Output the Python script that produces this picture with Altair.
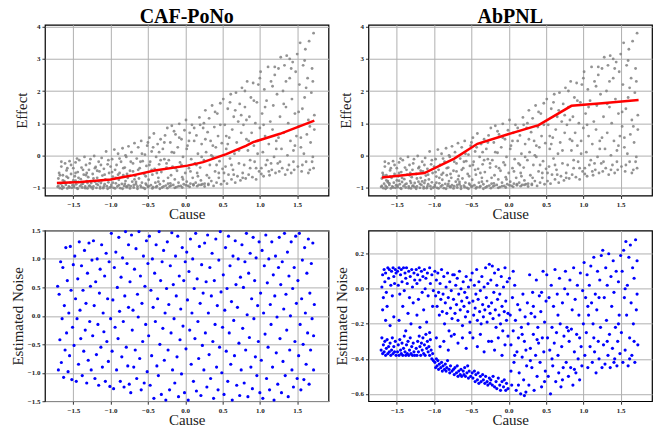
import altair as alt
import pandas as pd

# ---------------- data ----------------
x_ticks = [-1.5, -1.0, -0.5, 0.0, 0.5, 1.0, 1.5]
effect_ticks = [-1, 0, 1, 2, 3, 4]
caf_noise_ticks = [-1.5, -1.0, -0.5, 0.0, 0.5, 1.0, 1.5]
abpnl_noise_ticks = [-0.6, -0.4, -0.2, 0.0, 0.2]
titles = ["CAF-PoNo", "AbPNL"]

# observed (cause, effect) pairs, shared by both top panels
cause_effect = [
    (-1.71,-0.98),(-1.70,-0.72),(-1.69,-0.55),(-1.68,-1.02),(-1.67,-0.88),(-1.66,-0.35),(-1.65,-0.95),(-1.64,-0.62),
    (-1.63,-1.00),(-1.62,-0.80),(-1.61,-0.25),(-1.60,-0.92),(-1.59,-0.47),(-1.58,-1.03),(-1.57,-0.70),(-1.56,-0.97),
    (-1.55,-0.18),(-1.54,-0.85),(-1.53,-0.58),(-1.52,-1.01),(-1.51,-0.93),(-1.50,-0.40),(-1.50,-0.78),
    (-1.49,-0.99),(-1.48,-0.65),(-1.47,-0.22),(-1.46,-0.90),(-1.45,-1.02),(-1.44,-0.52),(-1.43,-0.83),(-1.42,-0.15),
    (-1.41,-0.96),(-1.40,-0.74),(-1.39,-0.38),(-1.38,-1.00),(-1.37,-0.88),(-1.36,-0.60),(-1.35,-0.05),(-1.34,-0.97),
    (-1.33,-0.30),(-1.32,-0.80),(-1.31,-1.03),(-1.30,-0.68),(-1.29,-0.45),(-1.28,-0.94),(-1.27,-0.12),(-1.26,-0.86),
    (-1.26,-0.99),
    (-1.24,-0.58),(-1.23,-0.97),(-1.22,-0.02),(-1.21,-0.82),(-1.20,-0.36),(-1.19,-1.01),(-1.18,-0.70),(-1.17,-0.92),
    (-1.16,-0.20),(-1.15,-0.50),(-1.14,-0.98),(-1.13,-0.86),(-1.12,-0.08),(-1.11,-0.63),(-1.10,-1.02),(-1.09,-0.42),
    (-1.08,-0.90),(-1.07,-0.75),(-1.06,0.12),(-1.05,-0.96),(-1.04,-0.28),(-1.03,-0.84),(-1.02,-0.55),(-1.01,-1.00),
    (-0.99,-0.92),(-0.98,-0.12),(-0.97,-0.66),(-0.96,-1.01),(-0.95,0.18),(-0.94,-0.45),(-0.93,-0.87),(-0.92,-0.30),
    (-0.91,-0.97),(-0.90,0.05),(-0.89,-0.76),(-0.88,-0.55),(-0.87,-1.02),(-0.86,-0.20),(-0.85,-0.89),(-0.84,0.22),
    (-0.83,-0.62),(-0.82,-0.95),(-0.81,-0.38),(-0.80,-0.80),(-0.79,-0.05),(-0.78,-0.99),(-0.77,-0.70),(-0.76,0.28),
    (-0.76,-0.93),
    (-0.74,-0.48),(-0.73,-0.96),(-0.72,0.10),(-0.71,-0.82),(-0.70,-0.25),(-0.69,-1.00),(-0.68,0.38),(-0.67,-0.64),
    (-0.66,-0.90),(-0.65,-0.10),(-0.64,-0.97),(-0.63,0.25),(-0.62,-0.72),(-0.61,-0.40),(-0.60,-0.94),(-0.59,0.45),
    (-0.58,-0.85),(-0.57,-0.18),(-0.56,-1.01),(-0.55,-0.58),(-0.54,0.02),(-0.53,-0.88),(-0.52,-0.33),(-0.51,0.30),
    (-0.50,-0.98),
    (-0.49,-0.76),(-0.48,0.55),(-0.47,-0.20),(-0.46,-0.93),(-0.45,0.12),(-0.44,-0.60),(-0.43,-0.99),(-0.42,0.68),
    (-0.41,-0.42),(-0.40,-0.85),(-0.39,-0.05),(-0.38,-0.96),(-0.37,0.35),(-0.36,-0.70),(-0.35,-0.28),(-0.34,-0.90),
    (-0.33,0.50),(-0.32,-0.52),(-0.31,-1.00),(-0.30,0.20),(-0.29,-0.80),(-0.28,-0.12),(-0.27,0.62),(-0.26,-0.94),
    (-0.25,-0.38),
    (-0.24,0.85),(-0.23,-0.88),(-0.22,-0.15),(-0.21,-0.97),(-0.20,0.40),(-0.19,-0.62),(-0.18,0.92),(-0.17,-0.35),
    (-0.16,-0.92),(-0.15,0.08),(-0.14,-0.75),(-0.13,0.65),(-0.12,-0.99),(-0.11,-0.48),(-0.10,0.25),(-0.09,-0.85),
    (-0.08,0.98),(-0.07,-0.22),(-0.06,-0.95),(-0.05,0.50),(-0.04,-0.68),(-0.03,-0.05),(-0.02,-0.90),(-0.01,0.78),
    (0.00,-0.55),
    (0.01,1.10),(0.02,-0.82),(0.03,0.30),(0.04,-0.95),(0.05,-0.40),(0.06,0.70),(0.07,-0.88),(0.08,-0.12),
    (0.09,0.95),(0.10,-0.70),(0.11,-0.93),(0.12,0.45),(0.13,-0.25),(0.14,-0.85),(0.15,0.62),(0.16,-0.55),
    (0.17,0.05),(0.18,-0.92),(0.19,1.18),(0.20,-0.38),(0.21,-0.78),(0.22,0.35),(0.23,-0.90),(0.24,0.85),(0.25,-0.15),
    (0.26,-0.88),(0.27,1.40),(0.28,0.10),(0.29,-0.62),(0.30,0.72),(0.31,-0.92),(0.32,1.15),(0.33,-0.30),
    (0.34,0.45),(0.35,-0.80),(0.36,1.55),(0.37,-0.05),(0.38,-0.95),(0.39,0.88),(0.40,-0.50),(0.41,0.25),
    (0.42,-0.85),(0.43,1.30),(0.44,0.60),(0.45,-0.70),(0.46,-0.18),(0.47,1.62),(0.48,-0.90),(0.49,0.38),(0.50,-0.42),
    (0.51,1.75),(0.52,-0.80),(0.53,0.95),(0.54,-0.35),(0.55,0.20),(0.56,-0.88),(0.57,1.45),(0.58,-0.60),
    (0.59,0.55),(0.60,-0.10),(0.61,1.90),(0.62,-0.75),(0.63,0.80),(0.64,-0.45),(0.65,1.20),(0.66,0.05),
    (0.67,-0.85),(0.68,1.95),(0.69,0.40),(0.70,-0.65),(0.71,1.05),(0.72,-0.25),(0.73,1.60),(0.74,-0.78),(0.75,0.70),
    (0.76,2.10),(0.77,-0.55),(0.78,0.95),(0.79,-0.30),(0.80,1.50),(0.81,-0.72),(0.82,0.50),(0.83,2.30),
    (0.84,0.15),(0.85,-0.60),(0.86,1.20),(0.87,-0.40),(0.88,1.80),(0.89,0.70),(0.90,-0.68),(0.91,2.25),
    (0.92,0.30),(0.93,-0.20),(0.94,1.00),(0.95,-0.75),(0.96,1.65),(0.97,0.05),(0.98,2.20),(0.99,-0.50),(1.00,0.85),
    (1.01,2.60),(1.02,-0.58),(1.03,1.30),(1.04,0.10),(1.05,-0.65),(1.06,2.05),(1.07,0.60),(1.08,-0.30),
    (1.09,1.70),(1.10,-0.15),(1.11,2.75),(1.12,0.35),(1.13,-0.62),(1.14,1.05),(1.15,2.30),(1.16,-0.45),
    (1.17,0.80),(1.18,1.55),(1.19,-0.05),(1.20,2.50),(1.21,-0.55),(1.22,0.45),(1.23,1.90),(1.24,-0.25),(1.25,2.70),
    (1.26,-0.50),(1.27,1.20),(1.28,3.05),(1.29,0.20),(1.30,-0.40),(1.31,2.00),(1.32,0.70),(1.33,2.80),
    (1.34,-0.60),(1.35,1.50),(1.36,3.10),(1.37,0.00),(1.38,1.00),(1.39,-0.30),(1.40,2.40),(1.41,0.45),
    (1.42,-0.55),(1.43,1.75),(1.44,2.90),(1.45,0.15),(1.46,-0.45),(1.47,1.30),(1.48,2.60),(1.49,0.60),(1.50,3.15),
    (1.51,-0.35),(1.52,0.90),(1.53,2.20),(1.54,3.50),(1.55,0.25),(1.56,-0.50),(1.57,1.45),(1.58,2.80),
    (1.59,0.05),(1.60,1.80),(1.61,3.30),(1.62,-0.20),(1.63,0.65),(1.64,2.40),(1.65,1.10),(1.66,3.55),
    (1.67,-0.45),(1.68,0.40),(1.69,1.95),(1.70,2.70),(1.71,-0.05),(1.72,3.80),(1.73,1.25),(1.73,0.80),(1.72,-0.40),
    (-1.70,-0.95),(-1.65,-1.04),(-1.60,-0.87),(-1.55,-1.00),(-1.49,-0.94),(-1.44,-1.04),(-1.39,-0.91),(-1.34,-1.02),
    (-1.29,-0.96),(-1.24,-1.04),(-1.19,-0.89),(-1.14,-1.03),(-1.09,-0.97),(-1.04,-1.04),(-0.99,-0.98),(-0.94,-1.03),
    (-0.89,-0.93),(-0.84,-1.04),(-0.79,-0.97),(-0.74,-1.03),(-0.69,-0.92),(-0.64,-1.04),(-0.59,-0.99),(-0.54,-1.04),
    (-0.49,-0.96),(-0.44,-1.03),(-0.39,-0.99),(-0.34,-1.04),(-0.29,-0.97),(-0.24,-1.02),(-0.19,-0.94),(-0.14,-1.01),
    (-0.09,-0.96),(-0.04,-1.00),(0.01,-0.93),(0.06,-0.98),(0.11,-0.90),(0.16,-0.96),(0.21,-0.92),(0.26,-0.97),
    (0.31,-0.89),(-1.62,-0.84),(-1.47,-0.79),(-1.31,-0.86),(-1.16,-0.81),(-0.97,-0.85),(-0.81,-0.89),(-0.66,-0.83),
    (-0.52,-0.92),(-0.36,-0.82),(-0.20,-0.87),
    (-1.68,-0.62),(-1.64,-0.78),(-1.59,-0.66),(-1.53,-0.30),(-1.47,-0.55),(-1.43,-0.70),(-1.37,-0.45),(-1.33,-0.62),
    (-1.28,-0.25),(-1.23,-0.72),(-1.18,-0.48),(-1.13,-0.30),(-1.08,-0.60),(-1.03,-0.15),(-0.98,-0.52),(-0.93,-0.70),
    (-0.88,-0.10),(-0.83,-0.40),(-0.78,-0.58),(-0.73,-0.20),(-0.68,-0.75),(-0.63,-0.45),(-0.58,0.05),(-0.53,-0.65),
    (-0.48,-0.30),(-0.43,0.25),(-0.38,-0.55),(-0.33,-0.15),(-0.28,0.40),(-0.23,-0.70),(-0.18,0.10),(-0.13,-0.40),
    (-0.08,0.55),(-0.03,-0.75),(0.02,0.20),(0.07,-0.50),(0.12,0.85),(0.17,-0.65),(0.22,-0.05),(0.27,0.50),
    (0.32,-0.70),(0.37,0.30),(0.42,-0.30),(0.47,0.95),(0.52,-0.55),(0.57,0.35),(0.62,-0.30),(0.67,1.40),
    (0.72,0.15),(0.77,-0.70),(0.82,1.10),(0.87,-0.15),(0.92,1.70),(0.97,0.45),(1.02,-0.40),(1.07,1.50),
    (1.12,-0.50),(1.17,2.15),(1.22,0.20),(1.27,-0.20),(1.32,1.60),(1.37,-0.45),(1.42,2.70),(1.47,0.30),
    (1.52,1.35),(1.57,-0.30),(1.62,2.10),(1.67,0.90),(1.71,2.30),(1.70,-0.20),
    (-1.66,-0.20),(-1.58,-0.40),(-1.45,-0.10),(-1.32,-0.55),(-1.21,-0.40),(-1.12,-0.78),(-1.00,-0.35),(-0.90,-0.60),
    (-0.80,0.00),(-0.70,-0.50),(-0.60,-0.20),(-0.50,0.40),(-0.45,-0.45),(-0.35,0.10),(-0.25,-0.25),(-0.15,0.75),
    (-0.05,-0.30),(0.05,0.45),(0.15,-0.30),(0.25,1.00),(0.35,0.00),(0.45,-0.55),(0.55,0.60),(0.65,-0.60),
    (0.75,1.25),(0.85,0.45),(0.95,-0.40),(1.05,0.95),(1.15,-0.25),(1.25,0.55),(1.35,2.30),(1.45,-0.20),
    (1.55,0.55),(1.65,-0.55),(1.60,2.95),(1.40,3.00),(1.20,2.75),(1.00,2.40),(0.80,2.00),(0.60,1.65),
    (0.40,1.35),(0.20,0.95),
]

# fitted curves (red)
caf_fit_cause = [-1.72, -1.40, -1.00, -0.72, -0.41, 0.03, 0.24, 0.55, 0.82, 0.91, 1.27, 1.73]
caf_fit_effect = [-0.86, -0.83, -0.75, -0.63, -0.47, -0.32, -0.21, 0.04, 0.30, 0.41, 0.67, 1.08]
abpnl_fit_cause = [-1.70, -1.13, -0.73, -0.42, -0.02, 0.40, 0.84, 1.25, 1.74]
abpnl_fit_effect = [-0.69, -0.55, -0.10, 0.36, 0.65, 0.94, 1.54, 1.62, 1.72]

# estimated noise, CAF-PoNo (cause, noise)
caf_noise = [
    (-1.71,0.52),(-1.70,-0.95),(-1.69,0.38),(-1.68,-0.42),(-1.67,0.95),(-1.66,-0.82),(-1.65,-0.05),(-1.64,0.85),
    (-1.63,-1.08),(-1.62,0.18),(-1.61,-0.60),(-1.60,1.20),(-1.59,-0.30),(-1.58,0.62),(-1.57,-0.98),(-1.56,0.05),
    (-1.55,-0.70),(-1.54,1.22),(-1.53,0.45),(-1.52,-1.12),(-1.51,-0.20),(-1.50,0.90),
    (-1.49,-0.52),(-1.48,1.05),(-1.47,0.30),(-1.46,-1.15),(-1.45,-0.05),(-1.44,0.65),(-1.43,-0.85),(-1.42,1.30),
    (-1.41,0.10),(-1.40,-0.40),(-1.39,0.88),(-1.38,-1.05),(-1.37,0.45),(-1.36,-0.62),(-1.35,1.15),(-1.34,-0.25),
    (-1.33,0.22),(-1.32,-1.18),(-1.31,0.75),(-1.30,-0.78),(-1.29,1.28),(-1.28,-0.10),(-1.27,0.52),(-1.26,-0.95),
    (-1.25,0.98),
    (-1.24,-0.35),(-1.23,1.32),(-1.22,0.18),(-1.21,-1.10),(-1.20,0.60),(-1.19,-0.68),(-1.18,1.00),(-1.17,-0.15),
    (-1.16,-1.22),(-1.15,0.40),(-1.14,0.82),(-1.13,-0.55),(-1.12,1.25),(-1.11,-0.90),(-1.10,0.05),(-1.09,-0.28),
    (-1.08,0.70),(-1.07,-1.15),(-1.06,1.10),(-1.05,-0.45),(-1.04,0.30),(-1.03,-0.80),(-1.02,0.95),(-1.01,-1.24),
    (-1.00,-0.05),
    (-0.99,1.45),(-0.98,-0.62),(-0.97,0.28),(-0.96,-1.28),(-0.95,0.85),(-0.94,-0.20),(-0.93,1.12),(-0.92,-0.95),
    (-0.91,0.50),(-0.90,-0.40),(-0.89,1.38),(-0.88,0.08),(-0.87,-1.15),(-0.86,0.68),(-0.85,-0.72),(-0.84,1.02),
    (-0.83,-0.10),(-0.82,-1.25),(-0.81,0.35),(-0.80,1.48),(-0.79,-0.55),(-0.78,0.92),(-0.77,-0.88),(-0.76,0.15),
    (-0.75,-1.20),(-0.76,1.25),
    (-0.74,0.60),(-0.73,-1.35),(-0.72,1.42),(-0.71,-0.25),(-0.70,0.10),(-0.69,-0.90),(-0.68,0.82),(-0.67,-0.60),
    (-0.66,1.18),(-0.65,-1.10),(-0.64,0.38),(-0.63,-0.02),(-0.62,1.48),(-0.61,-0.75),(-0.60,0.70),(-0.59,-1.30),
    (-0.58,0.22),(-0.57,-0.45),(-0.56,1.05),(-0.55,-1.18),(-0.54,0.52),(-0.53,-0.15),(-0.52,1.32),(-0.51,-0.98),
    (-0.50,0.92),
    (-0.49,-0.35),(-0.48,1.40),(-0.47,-1.22),(-0.46,0.45),(-0.45,-0.70),(-0.44,1.00),(-0.43,0.15),(-0.42,-1.45),
    (-0.41,0.75),(-0.40,-0.10),(-0.39,1.25),(-0.38,-0.88),(-0.37,0.30),(-0.36,-1.05),(-0.35,1.48),(-0.34,-0.50),
    (-0.33,0.62),(-0.32,-1.38),(-0.31,0.95),(-0.30,-0.22),(-0.29,1.15),(-0.28,-0.78),(-0.27,0.05),(-0.26,-1.48),
    (-0.25,0.48),
    (-0.24,1.30),(-0.23,-0.60),(-0.22,0.20),(-0.21,-1.30),(-0.20,0.88),(-0.19,-0.30),(-0.18,1.46),(-0.17,-0.95),
    (-0.16,0.55),(-0.15,-0.05),(-0.14,-1.18),(-0.13,1.05),(-0.12,0.35),(-0.11,-0.72),(-0.10,1.40),(-0.09,-1.42),
    (-0.08,0.70),(-0.07,-0.42),(-0.06,0.12),(-0.05,-1.02),(-0.04,1.20),(-0.03,-0.18),(-0.02,0.62),(-0.01,-1.35),
    (0.00,0.95),
    (0.01,-0.58),(0.02,1.12),(0.03,0.28),(0.04,-1.48),(0.05,0.78),(0.06,-0.25),(0.07,1.35),(0.08,-0.85),
    (0.09,0.05),(0.10,1.00),(0.11,-1.15),(0.12,0.48),(0.13,-0.40),(0.14,1.45),(0.15,-1.32),(0.16,0.65),
    (0.17,-0.10),(0.18,-0.75),(0.19,1.22),(0.20,0.22),(0.21,-1.40),(0.22,0.90),(0.23,-0.52),(0.24,0.40),(0.25,-0.95),
    (0.26,1.28),(0.27,-0.30),(0.28,0.60),(0.29,-1.25),(0.30,1.42),(0.31,0.05),(0.32,-0.68),(0.33,0.85),
    (0.34,-1.10),(0.35,0.35),(0.36,1.10),(0.37,-0.45),(0.38,-1.45),(0.39,0.62),(0.40,-0.15),(0.41,1.35),
    (0.42,-0.90),(0.43,0.18),(0.44,-1.30),(0.45,0.98),(0.46,-0.55),(0.47,1.48),(0.48,0.42),(0.49,-1.00),(0.50,-0.20),
    (0.51,0.72),(0.52,-1.38),(0.53,0.10),(0.54,1.20),(0.55,-0.62),(0.56,0.48),(0.57,-1.15),(0.58,1.40),
    (0.59,-0.30),(0.60,0.88),(0.61,-0.85),(0.62,0.25),(0.63,-1.48),(0.64,1.05),(0.65,-0.08),(0.66,-0.70),
    (0.67,1.32),(0.68,0.55),(0.69,-1.22),(0.70,0.15),(0.71,1.00),(0.72,-0.48),(0.73,-1.40),(0.74,0.68),(0.75,-0.95),
    (0.76,1.25),(0.77,-0.22),(0.78,0.50),(0.79,-1.18),(0.80,0.95),(0.81,-0.60),(0.82,1.45),(0.83,0.02),
    (0.84,-1.42),(0.85,0.75),(0.86,-0.38),(0.87,1.10),(0.88,-0.90),(0.89,0.30),(0.90,-1.28),(0.91,1.38),
    (0.92,-0.05),(0.93,0.62),(0.94,-0.72),(0.95,1.02),(0.96,-1.05),(0.97,0.18),(0.98,-0.45),(0.99,1.30),(1.00,-1.35),
    (1.01,0.40),(1.02,-0.78),(1.03,1.15),(1.04,-1.45),(1.05,0.05),(1.06,0.88),(1.07,-0.32),(1.08,1.42),
    (1.09,-1.10),(1.10,0.58),(1.11,-0.55),(1.12,1.00),(1.13,-1.30),(1.14,0.20),(1.15,-0.15),(1.16,1.30),
    (1.17,-0.90),(1.18,0.72),(1.19,-1.48),(1.20,0.35),(1.21,1.05),(1.22,-0.65),(1.23,-0.02),(1.24,-1.20),(1.25,0.85),
    (1.26,1.38),(1.27,-0.40),(1.28,0.55),(1.29,-1.35),(1.30,0.95),(1.31,-0.80),(1.32,0.12),(1.33,1.45),
    (1.34,-1.05),(1.35,0.38),(1.36,-0.25),(1.37,1.12),(1.38,-1.42),(1.39,0.70),(1.40,-0.60),(1.41,0.00),
    (1.42,1.30),(1.43,-0.95),(1.44,0.48),(1.45,-1.25),(1.46,0.85),(1.47,-0.45),(1.48,1.40),(1.49,0.22),(1.50,-1.10),
    (1.51,0.62),(1.52,-0.70),(1.53,1.45),(1.54,-0.15),(1.55,-1.30),(1.56,0.30),(1.57,0.98),(1.58,-0.50),
    (1.59,-1.12),(1.60,1.20),(1.61,0.05),(1.62,-0.85),(1.63,0.75),(1.64,-0.30),(1.65,1.35),(1.66,-1.20),
    (1.67,0.40),(1.68,-0.60),(1.69,0.92),(1.70,-0.05),(1.71,1.28),(1.72,-0.95),(1.73,0.20),(1.72,-0.35),
]

# estimated noise, AbPNL (cause, noise)
abpnl_noise = [
    (-1.70,0.01),(-1.69,0.08),(-1.68,-0.05),(-1.67,0.11),(-1.66,0.04),(-1.65,0.09),(-1.64,-0.02),(-1.62,0.12),
    (-1.61,0.06),(-1.60,0.11),(-1.58,0.02),(-1.57,0.10),(-1.56,-0.04),(-1.55,0.12),(-1.54,0.07),(-1.53,0.03),
    (-1.52,0.11),(-1.51,0.09),(-1.69,-0.12),(-1.65,-0.18),(-1.63,-0.10),(-1.59,-0.21),(-1.54,-0.16),
    (-1.71,-0.35),(-1.70,-0.28),(-1.69,-0.37),(-1.68,-0.32),(-1.67,-0.36),(-1.66,-0.30),(-1.65,-0.38),(-1.64,-0.34),
    (-1.63,-0.29),(-1.62,-0.37),(-1.61,-0.33),(-1.60,-0.36),(-1.59,-0.31),(-1.58,-0.38),(-1.57,-0.35),(-1.56,-0.28),
    (-1.55,-0.37),(-1.54,-0.33),(-1.53,-0.36),(-1.52,-0.30),(-1.51,-0.38),
    (-1.49,0.10),(-1.48,0.02),(-1.47,0.12),(-1.46,-0.03),(-1.45,0.08),(-1.44,0.11),(-1.43,0.04),(-1.41,0.12),
    (-1.40,-0.01),(-1.39,0.09),(-1.38,0.06),(-1.37,0.12),(-1.36,0.03),(-1.34,0.10),(-1.33,-0.05),(-1.32,0.07),
    (-1.30,0.11),(-1.29,0.01),(-1.27,0.09),(-1.26,0.05),
    (-1.47,-0.18),(-1.42,-0.10),(-1.38,-0.24),(-1.35,-0.14),(-1.31,-0.20),(-1.28,-0.08),
    (-1.49,-0.36),(-1.48,-0.32),(-1.47,-0.38),(-1.46,-0.29),(-1.45,-0.35),(-1.44,-0.37),(-1.43,-0.31),(-1.42,-0.38),
    (-1.41,-0.34),(-1.40,-0.27),(-1.39,-0.36),(-1.38,-0.38),(-1.37,-0.32),(-1.36,-0.37),(-1.35,-0.30),(-1.34,-0.38),
    (-1.33,-0.35),(-1.32,-0.28),(-1.31,-0.37),(-1.30,-0.33),(-1.29,-0.38),(-1.28,-0.31),(-1.27,-0.36),(-1.26,-0.38),
    (-1.24,0.11),(-1.23,0.03),(-1.22,0.08),(-1.21,-0.06),(-1.20,0.12),(-1.19,0.05),(-1.17,0.10),(-1.16,-0.02),
    (-1.15,0.07),(-1.13,0.11),(-1.12,0.00),(-1.11,0.06),(-1.09,0.09),(-1.08,-0.04),(-1.06,0.12),(-1.05,0.03),
    (-1.03,0.08),(-1.01,-0.01),
    (-1.23,-0.15),(-1.19,-0.22),(-1.14,-0.12),(-1.10,-0.19),(-1.06,-0.25),(-1.02,-0.10),
    (-1.24,-0.34),(-1.23,-0.38),(-1.22,-0.30),(-1.21,-0.36),(-1.20,-0.27),(-1.19,-0.33),(-1.18,-0.38),(-1.17,-0.31),
    (-1.16,-0.35),(-1.15,-0.28),(-1.14,-0.37),(-1.13,-0.32),(-1.12,-0.38),(-1.11,-0.26),(-1.10,-0.34),(-1.09,-0.30),
    (-1.08,-0.36),(-1.07,-0.33),(-1.06,-0.38),(-1.05,-0.29),(-1.04,-0.35),(-1.03,-0.40),(-1.02,-0.37),(-1.01,-0.41),
    (-0.99,0.10),(-0.98,-0.04),(-0.97,0.05),(-0.96,-0.10),(-0.95,0.09),(-0.94,-0.02),(-0.93,-0.15),(-0.92,0.03),
    (-0.91,-0.06),(-0.90,0.11),(-0.89,-0.13),(-0.88,-0.03),(-0.87,0.07),(-0.86,-0.20),(-0.85,-0.08),(-0.84,0.01),
    (-0.83,-0.14),(-0.82,0.09),(-0.81,-0.05),(-0.80,-0.24),(-0.79,0.04),(-0.78,-0.11),(-0.77,-0.01),(-0.76,-0.17),
    (-0.75,0.08),
    (-0.97,-0.28),(-0.92,-0.33),(-0.87,-0.30),(-0.81,-0.35),(-0.77,-0.27),
    (-0.99,-0.42),(-0.98,-0.45),(-0.97,-0.40),(-0.96,-0.44),(-0.95,-0.41),(-0.94,-0.46),(-0.93,-0.43),(-0.91,-0.45),
    (-0.90,-0.42),(-0.89,-0.47),(-0.88,-0.44),(-0.86,-0.46),(-0.85,-0.43),(-0.84,-0.47),(-0.83,-0.45),(-0.82,-0.41),
    (-0.80,-0.46),(-0.79,-0.48),(-0.78,-0.44),(-0.76,-0.47),
    (-0.74,-0.06),(-0.73,0.08),(-0.72,-0.14),(-0.71,0.02),(-0.70,-0.09),(-0.69,0.06),(-0.68,-0.18),(-0.67,-0.03),
    (-0.66,0.10),(-0.65,-0.12),(-0.64,0.00),(-0.63,-0.07),(-0.62,-0.21),(-0.61,0.04),(-0.60,-0.10),(-0.59,-0.02),
    (-0.58,-0.16),(-0.57,0.07),(-0.56,-0.05),(-0.55,-0.13),(-0.54,0.01),(-0.53,-0.08),(-0.52,-0.19),(-0.51,0.05),
    (-0.73,-0.26),(-0.68,-0.31),(-0.62,-0.28),(-0.57,-0.34),(-0.52,-0.25),
    (-0.74,-0.46),(-0.73,-0.49),(-0.72,-0.45),(-0.70,-0.48),(-0.69,-0.44),(-0.68,-0.50),(-0.67,-0.47),(-0.65,-0.49),
    (-0.64,-0.46),(-0.63,-0.50),(-0.61,-0.47),(-0.60,-0.49),(-0.59,-0.45),(-0.58,-0.50),(-0.56,-0.48),(-0.55,-0.44),
    (-0.54,-0.51),(-0.53,-0.47),(-0.51,-0.50),
    (-0.49,0.09),(-0.48,-0.07),(-0.47,-0.15),(-0.46,0.02),(-0.45,-0.11),(-0.44,-0.03),(-0.43,0.11),(-0.42,-0.18),
    (-0.41,-0.06),(-0.40,0.04),(-0.39,-0.13),(-0.38,-0.01),(-0.37,-0.20),(-0.36,0.07),(-0.35,-0.09),(-0.34,-0.16),
    (-0.33,0.01),(-0.32,-0.12),(-0.31,0.12),(-0.30,-0.05),(-0.29,-0.19),(-0.28,0.03),(-0.27,-0.10),(-0.26,0.14),
    (-0.25,-0.14),
    (-0.48,-0.28),(-0.42,-0.33),(-0.38,-0.26),(-0.33,-0.36),(-0.27,-0.30),
    (-0.49,-0.48),(-0.48,-0.51),(-0.46,-0.47),(-0.45,-0.53),(-0.44,-0.49),(-0.42,-0.52),(-0.41,-0.48),(-0.40,-0.54),
    (-0.38,-0.50),(-0.37,-0.53),(-0.35,-0.49),(-0.34,-0.52),(-0.32,-0.54),(-0.31,-0.50),(-0.29,-0.53),(-0.28,-0.55),
    (-0.26,-0.51),(-0.25,-0.54),
    (-0.24,0.05),(-0.23,-0.08),(-0.22,0.13),(-0.21,-0.17),(-0.20,-0.02),(-0.19,0.09),(-0.18,-0.12),(-0.17,-0.22),
    (-0.16,0.02),(-0.15,-0.06),(-0.14,0.11),(-0.13,-0.15),(-0.12,-0.03),(-0.11,-0.20),(-0.10,0.07),(-0.09,-0.10),
    (-0.08,-0.24),(-0.07,0.01),(-0.06,-0.13),(-0.05,0.12),(-0.04,-0.07),(-0.03,-0.18),(-0.02,0.04),(-0.01,-0.14),
    (-0.23,-0.30),(-0.19,-0.35),(-0.14,-0.28),(-0.09,-0.38),(-0.05,-0.32),(-0.01,-0.27),
    (-0.24,-0.52),(-0.22,-0.55),(-0.21,-0.50),(-0.19,-0.56),(-0.17,-0.53),(-0.16,-0.57),(-0.14,-0.51),(-0.12,-0.55),
    (-0.11,-0.58),(-0.09,-0.53),(-0.07,-0.56),(-0.06,-0.52),(-0.04,-0.58),(-0.03,-0.54),(-0.01,-0.57),
    (0.01,0.06),(0.02,-0.15),(0.03,-0.32),(0.04,-0.55),(0.05,-0.05),(0.06,-0.24),(0.07,-0.42),(0.08,0.02),
    (0.09,-0.18),(0.10,-0.58),(0.11,-0.36),(0.12,-0.09),(0.13,-0.28),(0.14,-0.48),(0.15,-0.12),(0.16,-0.60),
    (0.17,-0.22),(0.18,-0.39),(0.19,-0.03),(0.20,-0.52),(0.21,-0.30),(0.22,-0.16),(0.23,-0.59),(0.24,-0.44),
    (0.25,-0.08),(0.03,-0.47),(0.08,-0.38),(0.13,-0.55),(0.18,-0.26),(0.23,-0.35),(0.06,0.10),(0.21,-0.61),
    (0.26,-0.20),(0.27,-0.55),(0.28,0.08),(0.29,-0.34),(0.30,-0.14),(0.31,-0.45),(0.32,-0.02),(0.33,-0.26),
    (0.34,-0.58),(0.35,-0.16),(0.36,-0.38),(0.37,0.05),(0.38,-0.50),(0.39,-0.22),(0.40,-0.31),(0.41,-0.04),
    (0.42,-0.42),(0.43,-0.13),(0.44,-0.56),(0.45,-0.28),(0.46,0.10),(0.47,-0.36),(0.48,-0.19),(0.49,-0.47),
    (0.50,-0.07),(0.29,-0.41),(0.33,-0.10),(0.38,-0.29),(0.44,-0.02),(0.48,-0.53),
    (0.51,0.08),(0.52,-0.28),(0.53,-0.50),(0.54,-0.05),(0.55,-0.35),(0.56,-0.60),(0.57,0.02),(0.58,-0.22),
    (0.59,-0.44),(0.60,-0.10),(0.61,-0.31),(0.62,0.11),(0.63,-0.53),(0.64,-0.25),(0.65,-0.03),(0.66,-0.38),
    (0.67,-0.48),(0.68,0.06),(0.69,-0.20),(0.70,-0.56),(0.71,-0.33),(0.72,-0.08),(0.73,-0.45),(0.74,-0.27),
    (0.75,0.00),(0.58,-0.40),(0.66,-0.15),(0.72,-0.52),
    (0.76,0.10),(0.77,-0.42),(0.78,-0.22),(0.79,-0.03),(0.80,-0.50),(0.81,-0.30),(0.82,0.05),(0.83,-0.45),
    (0.84,-0.23),(0.85,-0.12),(0.86,-0.55),(0.87,0.12),(0.88,-0.36),(0.89,-0.06),(0.90,-0.48),(0.91,-0.26),
    (0.92,0.02),(0.93,-0.40),(0.94,-0.15),(0.95,-0.52),(0.96,0.09),(0.97,-0.33),(0.98,-0.44),(0.99,-0.01),
    (1.00,-0.20),(0.80,-0.24),(0.88,-0.46),(0.95,-0.28),
    (1.01,0.15),(1.02,-0.38),(1.03,-0.05),(1.04,-0.25),(1.05,0.08),(1.06,-0.45),(1.07,-0.15),(1.08,0.02),
    (1.09,-0.33),(1.10,0.13),(1.11,-0.08),(1.12,-0.42),(1.13,-0.20),(1.14,0.18),(1.15,-0.36),(1.16,-0.03),
    (1.17,-0.48),(1.18,-0.12),(1.19,0.10),(1.20,-0.30),(1.21,-0.40),(1.22,0.05),(1.23,-0.22),(1.24,0.19),
    (1.25,-0.45),(1.06,-0.10),(1.14,-0.28),(1.21,-0.05),
    (1.26,0.22),(1.27,-0.32),(1.28,-0.05),(1.29,-0.43),(1.30,0.12),(1.31,-0.18),(1.32,0.02),(1.33,-0.38),
    (1.34,0.20),(1.35,-0.26),(1.36,-0.45),(1.37,0.07),(1.38,-0.10),(1.39,-0.34),(1.40,0.16),(1.41,-0.02),
    (1.42,-0.40),(1.43,-0.22),(1.44,0.10),(1.45,-0.44),(1.46,-0.30),(1.47,0.04),(1.48,-0.15),(1.49,-0.37),
    (1.50,0.19),(1.32,-0.30),(1.41,-0.42),(1.47,-0.20),
    (1.51,-0.25),(1.52,0.10),(1.53,-0.42),(1.54,0.22),(1.55,-0.05),(1.56,-0.35),(1.57,0.27),(1.58,-0.15),
    (1.59,0.02),(1.60,-0.44),(1.61,0.18),(1.62,-0.28),(1.63,0.25),(1.64,-0.08),(1.65,-0.38),(1.66,0.12),
    (1.67,-0.20),(1.68,0.06),(1.69,-0.42),(1.70,0.28),(1.71,-0.12),(1.72,0.16),(1.73,-0.32),(1.72,-0.03),
    (1.62,-0.40),(1.56,0.00),(1.68,-0.30),
]

# ---------------- chart ----------------
FONT = "Liberation Serif"
W, H = 284, 171
X_DOMAIN = [-1.88, 1.92]

obs_df = pd.DataFrame(cause_effect, columns=["cause", "value"])
caf_fit_df = pd.DataFrame({"cause": caf_fit_cause, "value": caf_fit_effect})
abpnl_fit_df = pd.DataFrame({"cause": abpnl_fit_cause, "value": abpnl_fit_effect})
caf_noise_df = pd.DataFrame(caf_noise, columns=["cause", "value"])
abpnl_noise_df = pd.DataFrame(abpnl_noise, columns=["cause", "value"])


def x_enc():
    return alt.X("cause:Q",
                 scale=alt.Scale(domain=X_DOMAIN, nice=False, zero=False),
                 axis=alt.Axis(values=x_ticks, format=".1f", title="Cause",
                               labelOverlap=False, titleY=23, titleBaseline="alphabetic"))


def y_enc(domain, ticks, fmt, title, tx):
    return alt.Y("value:Q",
                 scale=alt.Scale(domain=domain, nice=False, zero=False),
                 axis=alt.Axis(values=ticks, format=fmt, title=title, labelOverlap=False,
                               titleX=tx, titleBaseline="alphabetic"))


def top_panel(fit_df, name):
    ye = lambda: y_enc([-1.25, 4.06], effect_ticks, "d", "Effect", -18)
    pts = alt.Chart(obs_df).mark_circle(size=8, color="#808080", opacity=0.85).encode(
        x=x_enc(), y=ye())
    line = alt.Chart(fit_df).mark_line(color="#ff0000", strokeWidth=2.5).encode(
        x=x_enc(), y=ye())
    return alt.layer(pts, line).properties(
        width=W, height=H,
        title=alt.TitleParams(name, font=FONT, fontSize=20, fontWeight="bold",
                              color="#000000", anchor="middle", offset=-4.5))


def noise_panel(df, domain, ticks):
    return alt.Chart(df).mark_circle(size=10, color="#0000ff", opacity=1).encode(
        x=x_enc(), y=y_enc(domain, ticks, ".1f", "Estimated Noise", -22)
    ).properties(width=W, height=H)


chart = alt.concat(
    top_panel(caf_fit_df, titles[0]),
    top_panel(abpnl_fit_df, titles[1]),
    noise_panel(caf_noise_df, [-1.5, 1.5], caf_noise_ticks),
    noise_panel(abpnl_noise_df, [-0.642, 0.333], abpnl_noise_ticks),
    columns=2, spacing={"row": 35, "column": 40}, bounds="flush"
).properties(
    padding={"left": 2, "top": -2.5, "right": 4, "bottom": 2}
).configure_view(
    stroke="#000000", strokeWidth=1.2
).configure_axis(
    labelFont=FONT, labelFontSize=7, labelFontWeight="bold", labelColor="#222222",
    labelPadding=2, labelFlush=False, labelOverlap=False,
    tickColor="#000000", tickSize=3, tickWidth=0.8,
    domain=False, grid=True, gridColor="#b0b0b0", gridWidth=1,
    titleFont=FONT, titleFontSize=15, titleFontWeight="normal", titleColor="#222222"
)

chart.save("out.html", embed_options={"renderer": "svg", "actions": False})
